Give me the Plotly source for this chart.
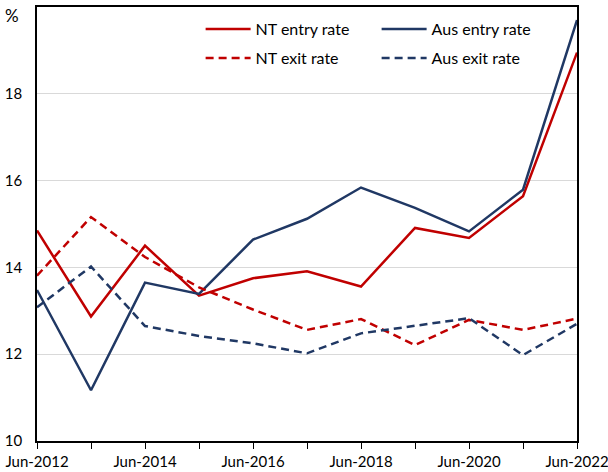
import plotly.graph_objects as go

periods = ["Jun-2012", "Jun-2013", "Jun-2014", "Jun-2015", "Jun-2016", "Jun-2017",
           "Jun-2018", "Jun-2019", "Jun-2020", "Jun-2021", "Jun-2022"]
nt_entry = [14.85, 12.87, 14.50, 13.35, 13.75, 13.91, 13.56, 14.91, 14.68, 15.64, 18.95]
aus_entry = [13.48, 11.17, 13.65, 13.39, 14.64, 15.12, 15.84, 15.37, 14.83, 15.79, 19.70]
nt_exit = [13.81, 15.16, 14.24, 13.54, 13.03, 12.56, 12.81, 12.21, 12.79, 12.56, 12.82]
aus_exit = [13.08, 14.02, 12.65, 12.42, 12.25, 12.02, 12.48, 12.66, 12.83, 11.98, 12.70]
tick_labels = ["Jun-2012", "", "Jun-2014", "", "Jun-2016", "", "Jun-2018", "",
               "Jun-2020", "", "Jun-2022"]
y_ticks = [10, 12, 14, 16, 18]

RED = "#C00000"
NAVY = "#203864"
FONT = "Lato"

fig = go.Figure()
fig.add_trace(go.Scatter(x=periods, y=nt_entry, mode="lines", name="NT entry rate",
                         line=dict(color=RED, width=2.5), legend="legend"))
fig.add_trace(go.Scatter(x=periods, y=aus_entry, mode="lines", name="Aus entry rate",
                         line=dict(color=NAVY, width=2.5), legend="legend"))
fig.add_trace(go.Scatter(x=periods, y=nt_exit, mode="lines", name="NT exit rate",
                         line=dict(color=RED, width=2.5, dash="8px,5px"), legend="legend2"))
fig.add_trace(go.Scatter(x=periods, y=aus_exit, mode="lines", name="Aus exit rate",
                         line=dict(color=NAVY, width=2.5, dash="8px,5px"), legend="legend2"))

leg_common = dict(orientation="h", x=0.303, xanchor="left", yanchor="middle",
                  entrywidth=116, entrywidthmode="pixels", bgcolor="rgba(0,0,0,0)",
                  font=dict(family=FONT, size=16, color="black"), itemwidth=45)

fig.update_layout(
    width=608, height=472,
    margin=dict(l=37, r=31, t=7, b=31),
    paper_bgcolor="white", plot_bgcolor="white",
    font=dict(family=FONT, size=14, color="black"),
    showlegend=True,
    legend=dict(y=0.949, **leg_common),
    legend2=dict(y=0.882, **leg_common),
    xaxis=dict(type="category", range=[0, 10], tickmode="array", tickvals=periods,
               ticktext=tick_labels, ticks="outside", ticklen=6, tickcolor="black",
               tickwidth=1, showline=True, linecolor="black", linewidth=1.5,
               mirror=True, showgrid=False, tickfont=dict(size=15), zeroline=False,
               automargin=False),
    yaxis=dict(range=[10, 20], tickmode="array", tickvals=y_ticks, showline=True,
               linecolor="black", linewidth=1.5, mirror=True, showgrid=True,
               gridcolor="#d9d9d9", gridwidth=1, ticks="", ticklabelstandoff=10,
               tickfont=dict(size=15), zeroline=False, automargin=False),
    annotations=[dict(text="%", xref="paper", yref="paper", x=-0.03, y=1.0,
                      xanchor="right", yanchor="middle", yshift=-8, showarrow=False,
                      font=dict(family=FONT, size=17))],
)

fig.write_html("out.html", config={"displayModeBar": False},
               post_script="document.body.style.margin='0';document.body.style.overflow='hidden';")
